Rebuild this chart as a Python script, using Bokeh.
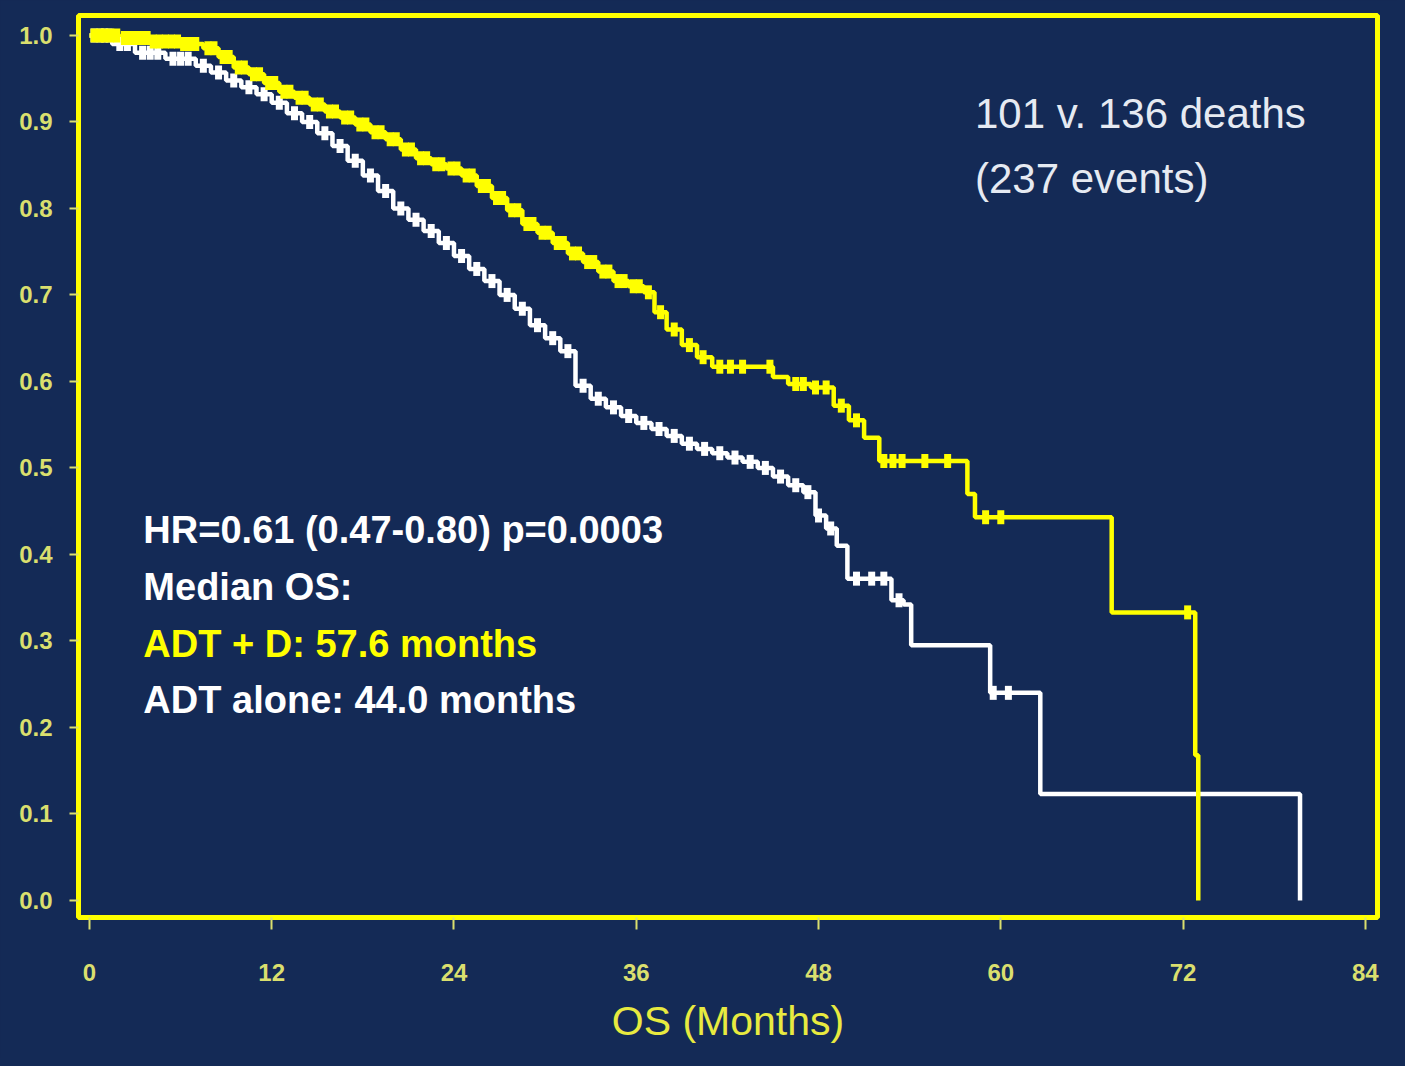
import numpy as np
from bokeh.plotting import figure
from bokeh.models import Range1d, FixedTicker, Label
from bokeh.embed import file_html
from bokeh.resources import INLINE

# ---------------- data ----------------
x_ticks = [0, 12, 24, 36, 48, 60, 72, 84]
y_ticks = [0.0, 0.1, 0.2, 0.3, 0.4, 0.5, 0.6, 0.7, 0.8, 0.9, 1.0]
y_tick_labels = ["0.0", "0.1", "0.2", "0.3", "0.4", "0.5", "0.6", "0.7", "0.8", "0.9", "1.0"]

# ADT + D (yellow)
adt_d_t = [0, 2, 4, 6, 7.5, 8.5, 9.5, 10.5, 11.5, 12.5, 13.5, 14.5, 15.5, 16.5, 17.5,
           18.5, 19.5, 20.5, 21.5, 22.5, 23.5, 24.5, 25.5, 26.5, 27.5, 28.5, 29.5, 30.5,
           31.5, 32.5, 33.5, 34.5, 35.5, 36.5, 37.2, 38, 39, 40, 41, 45, 46, 47.5, 49,
           50, 51, 52, 57.8, 58.3, 67.3, 72.8, 73.0]
adt_d_s = [1.0, 0.997, 0.993, 0.99, 0.985, 0.975, 0.963, 0.955, 0.945, 0.935, 0.928, 0.92,
           0.912, 0.905, 0.897, 0.888, 0.88, 0.868, 0.858, 0.851, 0.846, 0.838, 0.826, 0.812,
           0.798, 0.782, 0.772, 0.76, 0.748, 0.738, 0.727, 0.716, 0.71, 0.703, 0.68, 0.66,
           0.642, 0.628, 0.617, 0.605, 0.597, 0.593, 0.572, 0.555, 0.535, 0.508, 0.47, 0.443,
           0.333, 0.168, 0.0]
adt_d_censor = [0.3, 0.7, 1, 1.4, 1.8, 2.3, 2.7, 3, 3.4, 3.8, 4.2, 4.6, 5, 5.4, 5.8, 6.2,
                6.6, 7, 7.8, 8.2, 8.8, 9.2, 9.8, 10.2, 10.8, 11.2, 11.8, 12.2, 12.8, 13.2,
                13.8, 14.2, 14.8, 15.2, 15.8, 16.2, 16.8, 17.2, 17.8, 18.2, 18.8, 19.2, 19.8,
                20.2, 20.8, 21.2, 21.8, 22.2, 22.8, 23.2, 23.8, 24.2, 24.8, 25.2, 25.8, 26.2,
                26.8, 27.2, 27.8, 28.2, 28.8, 29.2, 29.8, 30.2, 30.8, 31.2, 31.8, 32.2, 32.8,
                33.2, 33.8, 34.2, 34.8, 35.2, 35.8, 36.2, 36.8, 37.6, 38.5, 39.5, 40.4, 41.5,
                42.2, 43, 44.8, 46.5, 47, 47.8, 48.5, 49.5, 50.5, 52.3, 52.9, 53.5, 55, 56.5,
                59, 60, 72.3]

# ADT alone (white)
adt_t = [0, 1.5, 3, 5, 7, 8, 9, 10, 11, 12, 13, 14, 15, 16, 17, 18, 19, 20, 21, 22, 23, 24,
         25, 26, 27, 28, 29, 30, 31, 32, 33, 34, 35, 36, 37, 38, 39, 40, 41, 42, 43, 44, 45,
         46, 47, 47.8, 48.5, 49.2, 49.9, 52.8, 53.6, 54.1, 59.3, 62.6, 79.7]
adt_s = [1.0, 0.99, 0.98, 0.973, 0.965, 0.957, 0.948, 0.94, 0.932, 0.922, 0.91, 0.9, 0.887,
         0.872, 0.855, 0.838, 0.82, 0.8, 0.787, 0.774, 0.76, 0.745, 0.73, 0.716, 0.7, 0.684,
         0.665, 0.65, 0.635, 0.595, 0.58, 0.57, 0.56, 0.552, 0.545, 0.537, 0.528, 0.522,
         0.517, 0.512, 0.507, 0.5, 0.49, 0.48, 0.472, 0.445, 0.43, 0.41, 0.372, 0.347, 0.342,
         0.295, 0.24, 0.123, 0.0]
adt_censor = [0.3, 0.7, 1, 1.3, 2, 2.5, 3.5, 4, 4.5, 5.5, 6, 6.5, 7.5, 8.5, 9.5, 10.5, 11.5,
              12.5, 13.5, 14.5, 15.5, 16.5, 17.5, 18.5, 19.5, 20.5, 21.5, 22.5, 23.5, 24.5,
              25.5, 26.5, 27.5, 28.5, 29.5, 30.5, 31.5, 32.5, 33.5, 34.5, 35.5, 36.5, 37.5,
              38.5, 39.5, 40.5, 41.5, 42.5, 43.5, 44.5, 45.5, 46.5, 47.3, 48, 48.8, 50.5,
              51.5, 52.3, 53.3, 59.5, 60.5]

stats_lines = ["HR=0.61 (0.47-0.80) p=0.0003", "Median OS:", "ADT + D: 57.6 months",
               "ADT alone: 44.0 months"]
events_lines = ["101 v. 136 deaths", "(237 events)"]

# ---------------- style ----------------
BG = "#142a56"
YEL = "#ffff00"
TICK_COL = "#dadf6e"
WHITE = "#ffffff"
FONT = "Liberation Sans"


def surv_at(times, surv, pts):
    times = np.asarray(times)
    surv = np.asarray(surv)
    idx = np.searchsorted(times, np.asarray(pts), side="right") - 1
    return surv[idx]


p = figure(width=1397, height=1058,
           x_range=Range1d(-0.72, 84.8), y_range=Range1d(-0.0197, 1.023),
           output_backend="svg", toolbar_location=None,
           min_border_left=78, min_border_top=15, min_border_right=20, min_border_bottom=141,
           background_fill_color=BG, border_fill_color=BG)
p.grid.visible = False
p.outline_line_color = YEL
p.outline_line_width = 5

for ax in (p.xaxis[0], p.yaxis[0]):
    ax.axis_line_color = None
    ax.major_tick_line_color = TICK_COL
    ax.major_tick_line_width = 2
    ax.minor_tick_line_color = None
    ax.major_label_text_color = TICK_COL
    ax.major_label_text_font = FONT
    ax.major_label_text_font_style = "bold"
    ax.major_label_text_font_size = "24px"

p.xaxis.ticker = FixedTicker(ticks=x_ticks)
p.xaxis.major_tick_in = 0
p.xaxis.major_tick_out = 12
p.xaxis.major_label_standoff = 34
p.xaxis.axis_label = "OS (Months)"
p.xaxis.axis_label_text_color = "#e8ea40"
p.xaxis.axis_label_text_font = FONT
p.xaxis.axis_label_text_font_style = "normal"
p.xaxis.axis_label_text_font_size = "41px"
p.xaxis.axis_label_standoff = 14

p.yaxis.ticker = FixedTicker(ticks=y_ticks)
p.yaxis.major_label_overrides = {t: lab for t, lab in zip(y_ticks, y_tick_labels)}
p.yaxis.major_tick_in = 0
p.yaxis.major_tick_out = 9
p.yaxis.major_label_standoff = 17

# curves
p.step(adt_t, adt_s, mode="after", line_color=WHITE, line_width=4.5)
p.step(adt_d_t, adt_d_s, mode="after", line_color=YEL, line_width=4.5)

p.scatter(adt_censor, surv_at(adt_t, adt_s, adt_censor), marker="dash", angle=np.pi / 2,
          size=14, line_color=WHITE, line_width=7)
p.scatter(adt_d_censor, surv_at(adt_d_t, adt_d_s, adt_d_censor), marker="dash",
          angle=np.pi / 2, size=14, line_color=YEL, line_width=7)

# annotations
stats_y = [0.428, 0.362, 0.296, 0.232]
stats_col = [WHITE, WHITE, YEL, WHITE]
for txt, yy, col in zip(stats_lines, stats_y, stats_col):
    p.add_layout(Label(x=3.55, y=yy, text=txt, text_color=col, text_font=FONT,
                       text_font_style="bold", text_font_size="38px",
                       text_baseline="middle", text_align="left"))

events_y = [0.91, 0.835]
for txt, yy in zip(events_lines, events_y):
    p.add_layout(Label(x=58.3, y=yy, text=txt, text_color="#e6eaf2", text_font=FONT,
                       text_font_style="normal", text_font_size="42px",
                       text_baseline="middle", text_align="left"))

html = file_html(p, INLINE)
html = html.replace("<body>", '<body style="background-color:%s;">' % BG)
open("out.html", "w").write(html)
